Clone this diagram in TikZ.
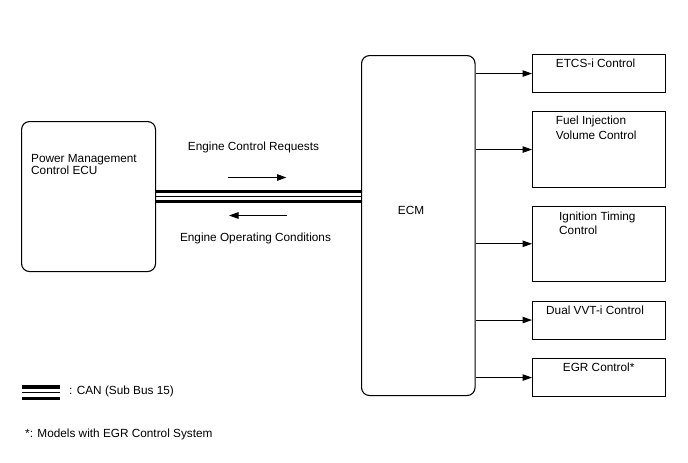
\documentclass[tikz,border=0pt]{standalone}
\usepackage{fontspec}
\setmainfont{Liberation Sans}
\usetikzlibrary{arrows.meta}
\begin{document}
\begin{tikzpicture}[x=1pt,y=-1pt,
  box/.style={draw,line width=1.1pt,inner sep=0,anchor=north west},
  lbl/.style={anchor=base west,inner sep=0,font=\fontsize{11.8}{14}\selectfont},
  clbl/.style={anchor=base,inner sep=0,font=\fontsize{11.8}{14}\selectfont},
  arr/.style={line width=1pt,-{Triangle[length=9.5pt,width=6.5pt]}},
  thickbus/.style={line width=3.3pt},
  thinbus/.style={line width=1.2pt}]
\useasboundingbox (0,0) rectangle (688,463);

% main boxes
\node[box,rounded corners=8pt,minimum width=134pt,minimum height=150pt] (pmc) at (21,121) {};
\node[box,rounded corners=8pt,minimum width=113.5pt,minimum height=340pt] (ecm) at (361,55) {};

% right boxes
\node[box,minimum width=133pt,minimum height=38pt] (etcs) at (532,54) {};
\node[box,minimum width=133pt,minimum height=76pt] (fuel) at (532,111) {};
\node[box,minimum width=133pt,minimum height=75.5pt] (ign) at (532,205.5) {};
\node[box,minimum width=133pt,minimum height=38pt] (vvt) at (532,300.5) {};
\node[box,minimum width=133pt,minimum height=38pt] (egr) at (532,358) {};

% texts
\node[lbl] (t-pmc1) at (31,162) {Power Management};
\node[lbl] (t-pmc2) at (31,174.5) {Control ECU};
\node[clbl] (t-ecm) at (411,214) {ECM};
\node[lbl] (t-etcs) at (555.7,67) {ETCS-i Control};
\node[lbl] (t-fuel1) at (555.7,124.7) {Fuel Injection};
\node[lbl] (t-fuel2) at (555.7,139) {Volume Control};
\node[lbl] (t-ign1) at (559,220.4) {Ignition Timing};
\node[lbl] (t-ign2) at (559,234.4) {Control};
\node[lbl] (t-vvt) at (546,314.4) {Dual VVT-i Control};
\node[lbl] (t-egr) at (562.7,371.4) {EGR Control*};
\node[clbl] (t-req) at (253.5,150.7) {Engine Control Requests};
\node[clbl] (t-cond) at (255.5,241) {Engine Operating Conditions};

% ECM outputs
\foreach \b in {etcs,fuel,ign,vvt,egr}{
  \draw[arr] (ecm.east |- \b.west) -- (\b.west);
}

% CAN bus
\draw[thickbus] ([yshift=5pt]pmc.east) -- ([yshift=5pt]pmc.east -| ecm.west);
\draw[thinbus] (pmc.east) -- (pmc.east -| ecm.west);
\draw[thickbus] ([yshift=-5pt]pmc.east) -- ([yshift=-5pt]pmc.east -| ecm.west);

% direction arrows
\coordinate (r1) at (228,177.5);
\coordinate (r2) at (286.5,177.5);
\coordinate (l1) at (286.5,215.5);
\coordinate (l2) at (229,215.5);
\draw[arr] (r1) -- (r2);
\draw[arr] (l1) -- (l2);

% legend
\coordinate (lg1) at (22,387);
\coordinate (lg2) at (60,387);
\draw[thickbus] (lg1) -- (lg2);
\draw[thinbus] ([yshift=-5.5pt]lg1) -- ([yshift=-5.5pt]lg2);
\draw[thickbus] ([yshift=-11.5pt]lg1) -- ([yshift=-11.5pt]lg2);
\node[lbl] (t-can) at (69,394) {: CAN (Sub Bus 15)};
\node[lbl] (t-note) at (25,437.5) {*: Models with EGR Control System};
\end{tikzpicture}
\end{document}
